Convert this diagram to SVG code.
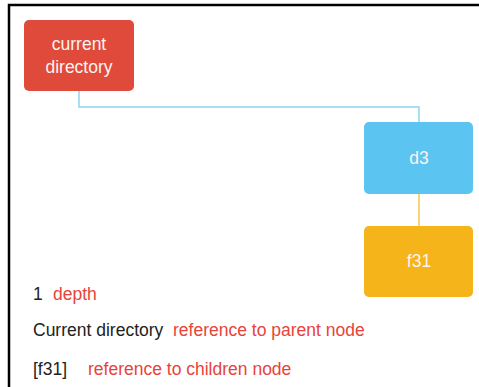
<svg xmlns="http://www.w3.org/2000/svg" width="479" height="387" viewBox="0 0 479 387">
<style>
.t{font-family:"Liberation Sans",Arial,sans-serif;font-size:17.5px}
.w{fill:#fdf3f0;text-anchor:middle}
.k{fill:#222}
.r{fill:#e8433a}
</style>
<rect x="0" y="0" width="479" height="387" fill="#fff"/>
<path d="M9 387V5H479" fill="none" stroke="#000" stroke-width="2.5"/>
<g id="connectors" fill="none" stroke-width="1.5">
<path d="M79 91V107H419V122" stroke="#8fd4f2"/>
<path d="M419 194V226" stroke="#f8c94e"/>
</g>
<g id="current">
<rect x="24" y="20" width="110" height="71" rx="5" fill="#e04a3a"/>
<text class="t w" x="79" y="50">current</text>
<text class="t w" x="79" y="73">directory</text>
</g>
<g id="d3">
<rect x="364" y="122" width="109" height="72" rx="5" fill="#5bc4f1"/>
<text class="t w" x="419" y="164">d3</text>
</g>
<g id="f31">
<rect x="364" y="226" width="109" height="71" rx="5" fill="#f4b41a"/>
<text class="t w" x="419" y="267">f31</text>
</g>
<g id="legend">
<text class="t k" x="33" y="300">1</text>
<text class="t r" x="53" y="300">depth</text>
<text class="t k" x="33" y="336">Current directory</text>
<text class="t r" x="173" y="336">reference to parent node</text>
<text class="t k" x="33" y="375">[f31]</text>
<text class="t r" x="88" y="375">reference to children node</text>
</g>
</svg>
